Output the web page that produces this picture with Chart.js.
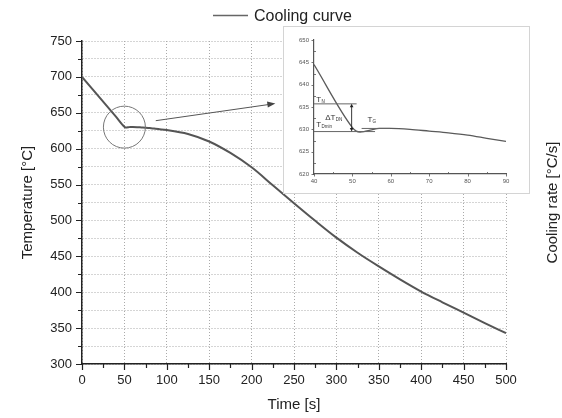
<!DOCTYPE html>
<html><head><meta charset="utf-8">
<script src="https://cdn.jsdelivr.net/npm/chart.js@4/dist/chart.umd.min.js"></script>
<style>
html,body{margin:0;padding:0;background:#fff;}
#wrap{position:relative;width:562px;height:418px;overflow:hidden;}
#main{position:absolute;left:0;top:0;}
#insetBox{position:absolute;left:283px;top:26px;width:245px;height:166px;border:1px solid #d4d4d4;background:#fff;}
#inset{display:block;}
</style></head><body>
<div id="wrap">
<canvas id="main" width="562" height="418"></canvas>
<div id="insetBox"><canvas id="inset" width="245" height="166"></canvas></div>
</div>
<script>
// ---- data ----
const timeS = [0, 40, 50, 51, 52, 53, 55, 57, 60, 65, 70, 75, 80, 85, 90, 100, 125, 150, 175, 200, 225, 250, 275, 300, 325, 350, 375, 400, 425, 450, 475, 500];
const tempC = [700, 644.5, 630.4, 629.6, 629.4, 629.5, 629.9, 630.2, 630.2, 630.0, 629.6, 629.2, 628.7, 628.0, 627.3, 626, 620.5, 610, 594, 574, 549, 524, 499.5, 476, 455, 436, 418, 401, 386, 371.5, 357, 343];
const xTickValues = [0, 50, 100, 150, 200, 250, 300, 350, 400, 450, 500];
const yTickValues = [300, 350, 400, 450, 500, 550, 600, 650, 700, 750];
const insetXTicks = [40, 50, 60, 70, 80, 90];
const insetYTicks = [620, 625, 630, 635, 640, 645, 650];
const seriesName = 'Cooling curve';
const xTitle = 'Time [s]';
const yTitle = 'Temperature [°C]';
const y2Title = 'Cooling rate [°C/s]';
// annotations, in data coordinates
const zoomCircle = [50, 630];
const zoomArrow = [[87, 639], [228, 663]];
const insetLevels = [[40, 51.1, 635.7], [40, 55.9, 629.5], [52.4, 59.8, 630.2]];
const insetDelta = [49.8, 635.7, 629.5];
const insetLabels = [['T', 'N', 40.6, 636.2], ['\u0394T', 'DN', 42.9, 632.2], ['T', 'Dmin', 40.6, 630.6], ['T', 'G', 53.9, 631.7]];

const FONT = '"Liberation Sans", Arial, Helvetica, sans-serif';
const pts = timeS.map((t, i) => ({x: t, y: tempC[i]}));
const withMinors = arr => {
  const out = [];
  arr.forEach((v, i) => { out.push(v); if (i < arr.length - 1) out.push((v + arr[i + 1]) / 2); });
  return out;
};

function arrowHead(ctx, x1, y1, x2, y2, len, half) {
  const a = Math.atan2(y2 - y1, x2 - x1);
  ctx.beginPath();
  ctx.moveTo(x2, y2);
  ctx.lineTo(x2 - len * Math.cos(a) + half * Math.sin(a), y2 - len * Math.sin(a) - half * Math.cos(a));
  ctx.lineTo(x2 - len * Math.cos(a) - half * Math.sin(a), y2 - len * Math.sin(a) + half * Math.cos(a));
  ctx.closePath();
  ctx.fill();
}

const mainDecor = {
  id: 'mainDecor',
  afterDraw(chart) {
    const ctx = chart.ctx, x = chart.scales.x, y = chart.scales.y, a = chart.chartArea;
    ctx.save();
    // axis tick marks
    ctx.strokeStyle = '#222'; ctx.lineWidth = 1.2;
    ctx.beginPath();
    withMinors(xTickValues).forEach(v => {
      const px = Math.round(x.getPixelForValue(v)) + 0.5;
      const len = xTickValues.includes(v) ? 6 : 4;
      ctx.moveTo(px, a.bottom); ctx.lineTo(px, a.bottom + len);
    });
    withMinors(yTickValues).forEach(v => {
      const py = Math.round(y.getPixelForValue(v)) + 0.5;
      const len = yTickValues.includes(v) ? 6 : 4;
      ctx.moveTo(a.left, py); ctx.lineTo(a.left - len, py);
    });
    ctx.stroke();
    // circle around the nucleation zone
    ctx.strokeStyle = '#777'; ctx.lineWidth = 1;
    ctx.beginPath();
    ctx.arc(x.getPixelForValue(zoomCircle[0]), y.getPixelForValue(zoomCircle[1]), 21, 0, Math.PI * 2);
    ctx.stroke();
    // arrow to the inset
    const ax1 = x.getPixelForValue(zoomArrow[0][0]), ay1 = y.getPixelForValue(zoomArrow[0][1]);
    const ax2 = x.getPixelForValue(zoomArrow[1][0]), ay2 = y.getPixelForValue(zoomArrow[1][1]);
    ctx.strokeStyle = '#555'; ctx.fillStyle = '#444'; ctx.lineWidth = 1;
    ctx.beginPath(); ctx.moveTo(ax1, ay1); ctx.lineTo(ax2 - 4, ay2 + 0.7); ctx.stroke();
    arrowHead(ctx, ax1, ay1, ax2, ay2, 8, 3);
    // legend
    ctx.strokeStyle = '#666'; ctx.lineWidth = 1.5;
    ctx.beginPath(); ctx.moveTo(213, 15.5); ctx.lineTo(248, 15.5); ctx.stroke();
    ctx.fillStyle = '#222'; ctx.font = '16px ' + FONT;
    ctx.textAlign = 'left'; ctx.textBaseline = 'alphabetic';
    ctx.fillText(seriesName, 254, 21);
    // right axis title
    ctx.translate(553, (a.top + a.bottom) / 2);
    ctx.rotate(-Math.PI / 2);
    ctx.textAlign = 'center'; ctx.textBaseline = 'middle';
    ctx.font = '15px ' + FONT;
    ctx.fillText(y2Title, 0, 0);
    ctx.restore();
  }
};

new Chart(document.getElementById('main'), {
  type: 'line',
  data: {datasets: [{label: seriesName, data: pts, borderColor: '#555', borderWidth: 2, pointRadius: 0, cubicInterpolationMode: 'monotone', fill: false}]},
  options: {
    responsive: false, animation: false, devicePixelRatio: 1,
    layout: {padding: {left: 0, right: 56, top: 41, bottom: 0}},
    plugins: {legend: {display: false}, tooltip: {enabled: false}},
    scales: {
      x: {
        type: 'linear', min: 0, max: 500,
        afterBuildTicks: s => { s.ticks = xTickValues.map(v => ({value: v})); },
        afterFit: s => { s.height = 54; },
        grid: {color: '#aaa', lineWidth: 1, drawTicks: false},
        border: {color: '#222', width: 1.5, dash: [1, 2]},
        ticks: {padding: 9, color: '#222', font: {size: 13, family: FONT}, maxRotation: 0, autoSkip: false},
        title: {display: true, text: xTitle, color: '#222', font: {size: 15, family: FONT}, padding: {top: 0, bottom: 4}}
      },
      y: {
        type: 'linear', min: 300, max: 750,
        afterBuildTicks: s => { s.ticks = withMinors(yTickValues).map(v => ({value: v})); },
        afterFit: s => { s.width = 82; },
        grid: {color: '#aaa', lineWidth: 1, drawTicks: false},
        border: {color: '#222', width: 1.5, dash: [1, 2]},
        ticks: {padding: 10, color: '#222', font: {size: 13, family: FONT}, autoSkip: false,
          callback: v => yTickValues.includes(v) ? String(v) : ''},
        title: {display: true, text: yTitle, color: '#222', font: {size: 15, family: FONT}, padding: {top: 19, bottom: 0}}
      }
    }
  },
  plugins: [mainDecor]
});

const insetDecor = {
  id: 'insetDecor',
  afterDraw(chart) {
    const ctx = chart.ctx, x = chart.scales.x, y = chart.scales.y, a = chart.chartArea;
    ctx.save();
    ctx.strokeStyle = '#555'; ctx.lineWidth = 0.8;
    ctx.beginPath();
    withMinors(insetXTicks).forEach(v => {
      const px = Math.round(x.getPixelForValue(v)) + 0.5;
      if (insetXTicks.includes(v)) { ctx.moveTo(px, a.bottom); ctx.lineTo(px, a.bottom + 2.5); }
      else { ctx.moveTo(px, a.bottom); ctx.lineTo(px, a.bottom - 2); }
    });
    withMinors(insetYTicks).forEach(v => {
      const py = Math.round(y.getPixelForValue(v)) + 0.5;
      if (insetYTicks.includes(v)) { ctx.moveTo(a.left, py); ctx.lineTo(a.left - 2.5, py); }
      else { ctx.moveTo(a.left, py); ctx.lineTo(a.left + 2, py); }
    });
    ctx.stroke();
    // characteristic temperature levels
    ctx.strokeStyle = '#666'; ctx.lineWidth = 1;
    ctx.beginPath();
    insetLevels.forEach(([x1, x2, t]) => {
      const py = y.getPixelForValue(t);
      ctx.moveTo(x.getPixelForValue(x1), py); ctx.lineTo(x.getPixelForValue(x2), py);
    });
    ctx.stroke();
    // double arrow ΔT
    const dx = x.getPixelForValue(insetDelta[0]);
    const dy1 = y.getPixelForValue(insetDelta[1]), dy2 = y.getPixelForValue(insetDelta[2]);
    ctx.strokeStyle = '#222'; ctx.fillStyle = '#222'; ctx.lineWidth = 0.9;
    ctx.beginPath(); ctx.moveTo(dx, dy1 + 3); ctx.lineTo(dx, dy2 - 3); ctx.stroke();
    arrowHead(ctx, dx, dy2, dx, dy1, 3.5, 1.8);
    arrowHead(ctx, dx, dy1, dx, dy2, 3.5, 1.8);
    // labels
    ctx.fillStyle = '#333'; ctx.textAlign = 'left'; ctx.textBaseline = 'alphabetic';
    insetLabels.forEach(([m, sub, lx, ly]) => {
      const px = x.getPixelForValue(lx), py = y.getPixelForValue(ly);
      ctx.font = '8px ' + FONT;
      ctx.fillText(m, px, py);
      const w = ctx.measureText(m).width;
      ctx.font = '4.5px ' + FONT;
      ctx.fillText(sub, px + w + 0.3, py + 1.5);
    });
    ctx.restore();
  }
};

const insetPts = pts.filter(p => p.x >= 40 && p.x <= 90);
new Chart(document.getElementById('inset'), {
  type: 'line',
  data: {datasets: [{data: insetPts, borderColor: '#5a5a5a', borderWidth: 1.3, pointRadius: 0, cubicInterpolationMode: 'monotone', fill: false}]},
  options: {
    responsive: false, animation: false, devicePixelRatio: 1,
    layout: {padding: {left: 0, right: 23, top: 13, bottom: 0}},
    plugins: {legend: {display: false}, tooltip: {enabled: false}},
    scales: {
      x: {
        type: 'linear', min: 40, max: 90,
        afterBuildTicks: s => { s.ticks = insetXTicks.map(v => ({value: v})); },
        afterFit: s => { s.height = 19; },
        grid: {display: false, drawTicks: false},
        border: {color: '#555', width: 1.2},
        ticks: {padding: 4, color: '#555', font: {size: 6, family: FONT}, maxRotation: 0, autoSkip: false}
      },
      y: {
        type: 'linear', min: 620, max: 650,
        afterBuildTicks: s => { s.ticks = insetYTicks.map(v => ({value: v})); },
        afterFit: s => { s.width = 30; },
        grid: {display: false, drawTicks: false},
        border: {color: '#555', width: 1.2},
        ticks: {padding: 5, color: '#555', font: {size: 6, family: FONT}, autoSkip: false}
      }
    }
  },
  plugins: [insetDecor]
});
</script>
</body></html>
